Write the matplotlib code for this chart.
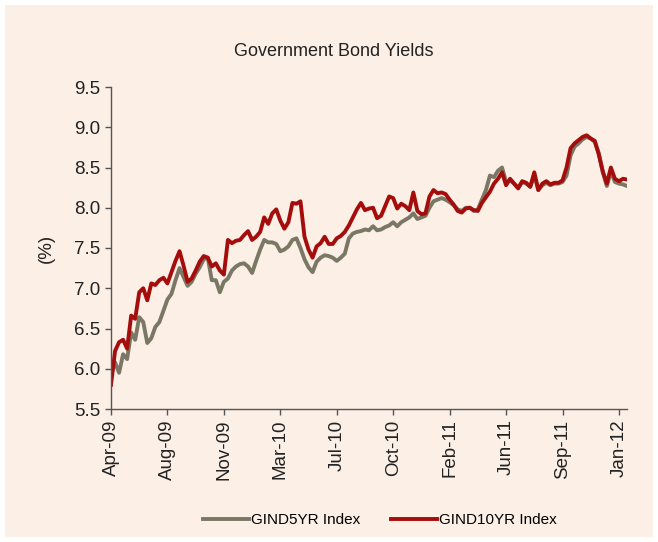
import matplotlib
matplotlib.use("Agg")
import matplotlib.pyplot as plt
from matplotlib.patches import Rectangle

plt.rcParams['font.family'] = ['Liberation Sans', 'DejaVu Sans']

# tick labels (one every 14 samples)
tick_labels = ["Apr-09", "Aug-09", "Nov-09", "Mar-10", "Jul-10",
               "Oct-10", "Feb-11", "Jun-11", "Sep-11", "Jan-12"]
tick_step = 14

# yields, roughly weekly samples
gind10 = [5.80, 6.22, 6.33, 6.36, 6.25, 6.66, 6.62, 6.95, 7.00, 6.85,
          7.06, 7.04, 7.10, 7.13, 7.06, 7.20, 7.34, 7.46, 7.28, 7.08,
          7.12, 7.22, 7.33, 7.40, 7.38, 7.27, 7.31, 7.22, 7.17, 7.60,
          7.56, 7.59, 7.60, 7.66, 7.71, 7.60, 7.64, 7.70, 7.88, 7.80,
          7.93, 7.98, 7.84, 7.74, 7.82, 8.06, 8.05, 8.08, 7.64, 7.48,
          7.38, 7.52, 7.56, 7.64, 7.55, 7.55, 7.62, 7.65, 7.70, 7.78,
          7.88, 7.98, 8.06, 7.97, 7.99, 8.00, 7.87, 7.90, 8.02, 8.14,
          8.12, 7.99, 8.05, 8.02, 7.97, 8.19, 7.96, 7.92, 7.93, 8.14,
          8.22, 8.18, 8.19, 8.17, 8.10, 8.04, 7.96, 7.94, 7.99, 8.00,
          7.97, 7.96, 8.06, 8.13, 8.20, 8.30, 8.36, 8.44, 8.28, 8.36,
          8.30, 8.24, 8.33, 8.31, 8.26, 8.44, 8.22, 8.30, 8.33, 8.29,
          8.31, 8.31, 8.34, 8.50, 8.74, 8.80, 8.84, 8.88, 8.90, 8.86,
          8.83, 8.66, 8.45, 8.30, 8.50, 8.36, 8.33, 8.36, 8.35]

gind5 = [5.92, 6.08, 5.95, 6.18, 6.12, 6.45, 6.36, 6.64, 6.58, 6.32,
         6.38, 6.52, 6.58, 6.72, 6.86, 6.93, 7.10, 7.25, 7.14, 7.03,
         7.08, 7.18, 7.26, 7.36, 7.38, 7.10, 7.10, 6.95, 7.08, 7.12,
         7.22, 7.27, 7.30, 7.31, 7.27, 7.19, 7.34, 7.48, 7.60, 7.57,
         7.57, 7.55, 7.46, 7.48, 7.52, 7.60, 7.62, 7.50, 7.36, 7.26,
         7.20, 7.33, 7.38, 7.41, 7.40, 7.38, 7.34, 7.38, 7.43, 7.62,
         7.68, 7.70, 7.71, 7.73, 7.72, 7.77, 7.72, 7.73, 7.76, 7.78,
         7.82, 7.77, 7.82, 7.85, 7.88, 7.93, 7.86, 7.88, 7.90, 8.00,
         8.08, 8.10, 8.12, 8.10, 8.07, 8.03, 7.98, 7.96, 8.00, 8.00,
         7.96, 7.98, 8.10, 8.22, 8.40, 8.38, 8.46, 8.50, 8.32, 8.34,
         8.30, 8.25, 8.32, 8.30, 8.26, 8.40, 8.22, 8.28, 8.31, 8.28,
         8.30, 8.30, 8.32, 8.40, 8.65, 8.76, 8.80, 8.85, 8.88, 8.86,
         8.82, 8.68, 8.44, 8.27, 8.45, 8.32, 8.30, 8.29, 8.27]

bg = "#FCEFE6"
grey = "#7A7765"
red = "#A50D0D"

fig = plt.figure(figsize=(6.58, 5.42), dpi=100)
fig.patch.set_facecolor("white")
fig.patches.append(Rectangle((5 / 658, 5 / 542), 648 / 658, 532 / 542,
                             transform=fig.transFigure, facecolor=bg,
                             edgecolor="none", zorder=-10))

ax = fig.add_axes([111 / 658, 1 - 409 / 542, (627 - 111) / 658, (409 - 87) / 542])
ax.set_facecolor("none")
ax.set_zorder(5)

x = list(range(len(gind10)))
ax.plot(x, gind5, color=grey, lw=2.8, label="GIND5YR Index", solid_joinstyle="round")
ax.plot(x, gind10, color=red, lw=2.8, label="GIND10YR Index", solid_joinstyle="round")

ax.set_xlim(0, len(gind10) - 1)
ax.set_ylim(5.5, 9.5)
ax.set_yticks([5.5, 6.0, 6.5, 7.0, 7.5, 8.0, 8.5, 9.0, 9.5])
ax.set_yticklabels([f"{v:.1f}" for v in ax.get_yticks()])
ax.set_xticks([i * tick_step for i in range(len(tick_labels))])
ax.set_xticklabels(tick_labels, rotation=90)

for s in ["top", "right"]:
    ax.spines[s].set_visible(False)
for s in ["left", "bottom"]:
    ax.spines[s].set_color("#555555")
    ax.spines[s].set_linewidth(1.0)
ax.tick_params(colors="#555555", labelcolor="#222222", labelsize=13.5,
               length=4, width=1.0, direction="out")

ax.set_ylabel("(%)", fontsize=13.5, color="#222222", labelpad=14)
fig.text(334 / 658, 1 - 52 / 542, "Government Bond Yields", ha="center",
         va="center", fontsize=13, color="#222222")

fig.legend(loc="center", bbox_to_anchor=(380 / 658, 1 - 520 / 542), ncol=2,
           frameon=False, fontsize=11, handlelength=3.0, handletextpad=0.15,
           columnspacing=2.0)

fig.savefig("out.png", dpi=100, facecolor="white")
